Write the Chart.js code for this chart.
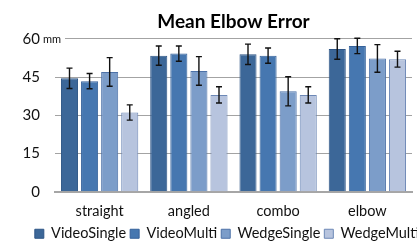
<!DOCTYPE html>
<html>
<head>
<meta charset="utf-8">
<script src="https://cdn.jsdelivr.net/npm/chart.js@4/dist/chart.umd.min.js"></script>
<style>
  html, body { margin: 0; padding: 0; background: #fff; overflow: hidden; }
  #wrap { position: absolute; left: 0; top: 0; width: 432px; height: 241px; }
</style>
</head>
<body>
<div id="wrap"><canvas id="chart"></canvas></div>
<script>
// Data
const categories = ['straight', 'angled', 'combo', 'elbow'];
const seriesNames = ['VideoSingle', 'VideoMulti', 'WedgeSingle', 'WedgeMulti'];
const videoSingle = [44.5, 53.4, 53.9, 56.0];
const videoMulti = [43.4, 54.2, 53.4, 57.2];
const wedgeSingle = [47.0, 47.4, 39.4, 52.3];
const wedgeMulti = [31.1, 38.0, 38.0, 52.0];
const errVideoSingle = [4.0, 3.8, 4.0, 4.0];
const errVideoMulti = [3.0, 3.0, 3.0, 3.0];
const errWedgeSingle = [5.6, 5.6, 5.7, 5.4];
const errWedgeMulti = [3.0, 3.2, 3.2, 3.1];
const yTicks = [0, 15, 30, 45, 60];

const fills = ['#3c6798', '#4677b0', '#7c9dc9', '#b7c4de'];
const borders = ['#2e5586', '#35619a', '#4d72a8', '#6d88b6'];
const values = [videoSingle, videoMulti, wedgeSingle, wedgeMulti];
const errors = [errVideoSingle, errVideoMulti, errWedgeSingle, errWedgeMulti];

const FONT = 'Lato, "Open Sans", sans-serif';

// Error bars drawn from the y scale
const errorBarPlugin = {
  id: 'errorBars',
  afterDatasetsDraw(chart) {
    const { ctx, scales: { y } } = chart;
    ctx.save();
    ctx.strokeStyle = '#111';
    ctx.lineWidth = 1.4;
    chart.data.datasets.forEach((ds, di) => {
      const meta = chart.getDatasetMeta(di);
      meta.data.forEach((bar, i) => {
        const v = ds.data[i];
        const e = errors[di][i];
        const top = y.getPixelForValue(v + e);
        const bot = y.getPixelForValue(v - e);
        ctx.beginPath();
        ctx.moveTo(bar.x, top);
        ctx.lineTo(bar.x, bot);
        ctx.moveTo(bar.x - 3, top);
        ctx.lineTo(bar.x + 3, top);
        ctx.moveTo(bar.x - 3, bot);
        ctx.lineTo(bar.x + 3, bot);
        ctx.stroke();
      });
    });
    ctx.restore();
  }
};

// "mm" unit next to the top tick
const unitPlugin = {
  id: 'unitLabel',
  afterDraw(chart) {
    const { ctx, chartArea, scales: { y } } = chart;
    const py = y.getPixelForValue(60);
    ctx.save();
    ctx.fillStyle = '#fff';
    ctx.fillRect(chartArea.left - 2, py - 3, 12, 6);
    ctx.fillStyle = '#111';
    ctx.font = '11px ' + FONT;
    ctx.textBaseline = 'middle';
    ctx.textAlign = 'left';
    ctx.fillText('mm', chartArea.left - 12, py + 1);
    ctx.restore();
  }
};

new Chart(document.getElementById('chart'), {
  type: 'bar',
  data: {
    labels: categories,
    datasets: seriesNames.map((name, i) => ({
      label: name,
      data: values[i],
      backgroundColor: fills[i],
      borderColor: borders[i],
      borderWidth: 1,
      categoryPercentage: 0.9,
      barPercentage: 0.85
    }))
  },
  options: {
    responsive: true,
    maintainAspectRatio: false,
    animation: false,
    layout: { padding: { left: 22, right: 0, top: 10, bottom: -10 } },
    plugins: {
      title: {
        display: true,
        text: 'Mean Elbow Error',
        fullSize: false,
        color: '#000',
        font: { family: FONT, size: 19, weight: 'bold' },
        padding: { top: 0, bottom: 6 }
      },
      legend: {
        position: 'bottom',
        labels: {
          color: '#111',
          font: { family: FONT, size: 14.5 },
          boxWidth: 9,
          boxHeight: 9,
          padding: 4
        }
      },
      tooltip: { enabled: false }
    },
    scales: {
      x: {
        grid: { display: false, drawTicks: false },
        border: { display: true, color: '#a6a6a6', width: 2 },
        ticks: { color: '#111', font: { family: FONT, size: 14.5 }, padding: 11 },
        afterFit: axis => { axis.height -= 8.7; }
      },
      y: {
        min: 0,
        max: 60,
        afterBuildTicks: axis => { axis.ticks = yTicks.map(v => ({ value: v })); },
        afterFit: axis => { axis.width = 33; },
        grid: {
          drawTicks: false,
          color: c => (c.tick && c.tick.value === 0 ? 'rgba(0,0,0,0)' : '#a3a3a3'),
          lineWidth: 1
        },
        border: { display: false },
        ticks: { color: '#111', font: { family: FONT, size: 15 }, padding: 15 }
      },
      // empty right-hand axis: keeps the plot narrow while the legend runs past the window
      spacer: {
        type: 'linear',
        position: 'right',
        display: true,
        grid: { display: false },
        border: { display: false },
        ticks: { display: false },
        afterFit: axis => { axis.width = 20; }
      }
    }
  },
  plugins: [errorBarPlugin, unitPlugin]
});
</script>
</body>
</html>
